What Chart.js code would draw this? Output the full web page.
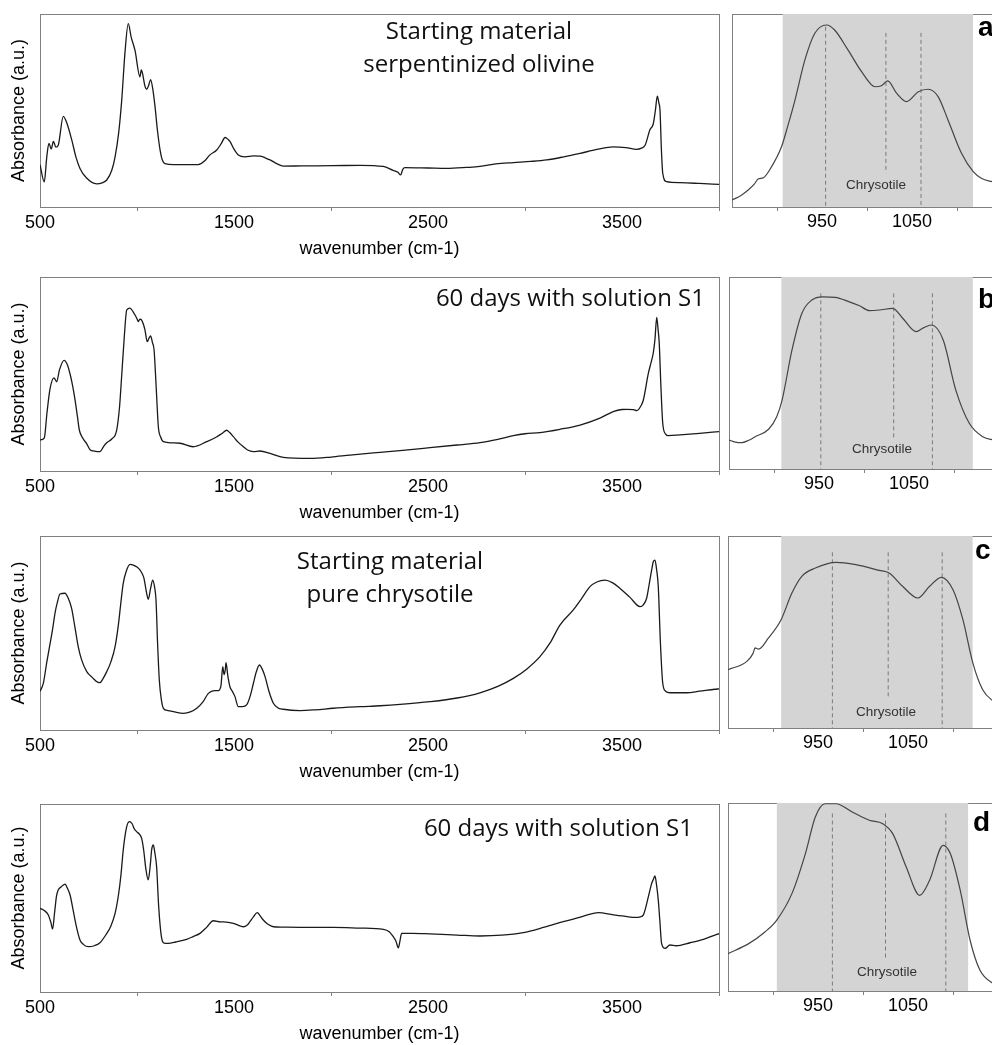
<!DOCTYPE html>
<html>
<head>
<meta charset="utf-8">
<script src="https://cdn.jsdelivr.net/npm/chart.js@4.4.1/dist/chart.umd.min.js"></script>
<style>
  html, body { margin: 0; padding: 0; background: #fff; }
  body { width: 992px; height: 1045px; overflow: hidden; position: relative; }
  canvas { position: absolute; }
  .note { position: absolute; z-index: 2; width: 400px; font-family: "Open Sans", sans-serif; font-size: 24px; color: #111; white-space: nowrap; }
  .chry { position: absolute; z-index: 2; width: 100px; text-align: center; font-family: "Liberation Sans", Arial, sans-serif; font-size: 13.5px; line-height: 13.5px; color: #333; }
  .tag { position: absolute; z-index: 2; font-family: "Liberation Sans", Arial, sans-serif; font-weight: bold; font-size: 28px; line-height: 28px; color: #000; }
</style>
</head>
<body>
<canvas id="mainA"></canvas><canvas id="zoomA"></canvas>
<canvas id="mainB"></canvas><canvas id="zoomB"></canvas>
<canvas id="mainC"></canvas><canvas id="zoomC"></canvas>
<canvas id="mainD"></canvas><canvas id="zoomD"></canvas>

<div class="note" style="left:279px;top:14px;line-height:32.7px;text-align:center">Starting material<br>serpentinized olivine</div>
<div class="note" style="left:305px;top:280px;line-height:33px;text-align:right">60 days with solution S1</div>
<div class="note" style="left:190px;top:543px;line-height:33.4px;text-align:center">Starting material<br>pure chrysotile</div>
<div class="note" style="left:293px;top:810px;line-height:33px;text-align:right">60 days with solution S1</div>

<div class="chry" style="left:826px;top:178px">Chrysotile</div>
<div class="chry" style="left:832px;top:442px">Chrysotile</div>
<div class="chry" style="left:836px;top:705px">Chrysotile</div>
<div class="chry" style="left:837px;top:965px">Chrysotile</div>

<div class="tag" style="left:978px;top:13px">a</div>
<div class="tag" style="left:978px;top:285px">b</div>
<div class="tag" style="left:975px;top:536px">c</div>
<div class="tag" style="left:973px;top:808px">d</div>

<script>
// ---- full spectra (wavenumber, absorbance a.u. 0-100) ----
const wnMainA = [500,522,535,546,558,569,582,594,620,640,663,685,706,740,792,820,844,870,887,905,921,938,955,970,990,1015,1022,1029,1040,1050,1060,1070,1080,1093,1105,1119,1130,1144,1190,1239,1316,1350,1376,1411,1435,1454,1470,1479,1500,1522,1557,1600,1634,1660,1686,1720,1754,1850,2011,2150,2269,2320,2345,2359,2370,2381,2500,2596,2700,2768,2850,2940,3030,3112,3200,3284,3370,3455,3520,3576,3600,3619,3644,3661,3672,3682,3690,3696,3703,3710,3730,3799,3900,4000];
const absMainA = [22,13,26,33,30,34,31,32,47,43,35,26,20,15,12,12.5,14,19,26,38,55,80,95,88,81,67.5,71,69,63,61,63,66,62,52,40,29.5,24.5,22.5,22,22,22,24,27,29.5,33,36,35,34,30,27,26,26.5,26.4,25.5,24.4,22.5,21.2,21.3,21.4,21.6,21,19,18,16.6,19.5,20.4,20.2,20,20.5,21,22.3,23,23.6,24.4,26,27.8,29.8,31.2,30.8,29.9,30.5,32,40,43,50,57.5,54,50,30,17.5,13.1,12.6,12.2,11.7];

const wnMainB = [500,522,536,551,572,586,600,624,640,655,668,680,693,703,720,741,758,780,809,830,844,870,895,910,921,935,947,964,980,990,1000,1007,1015,1024,1035,1041,1053,1062,1070,1080,1088,1098,1110,1122,1136,1180,1222,1290,1359,1410,1440,1462,1478,1497,1520,1548,1570,1600,1634,1686,1754,1892,2000,2098,2253,2356,2510,2650,2768,2860,2940,3000,3077,3180,3284,3380,3455,3500,3524,3560,3576,3600,3610,3636,3650,3661,3670,3679,3686,3692,3700,3710,3725,3739,3799,3900,4000];
const absMainB = [16,17,30,42,48,46,52,57,55,50,44,37,28,21,17,14,11,10.3,10,13,14.6,16.5,21,33,49,70,83,84,82,80.4,78.5,77,78.3,77.8,75,72.7,66.7,68.5,69.6,66,62.4,45,22.8,17.5,15.1,14.5,14.3,12.5,15.1,17.5,19.5,21,19.8,17.7,15,12.5,10.8,10,10.3,9.1,7,6.5,7.2,8.2,9.6,10.5,12,13.4,14.6,16.3,18.2,19.2,19.8,21.5,23.7,27,30.6,31.7,31.8,31.6,31.1,34,36.6,50.4,56,60.7,68,79.2,73,65.8,45,24.6,19,18.2,18.6,19.4,20.3];

const wnMainC = [500,517,535,551,565,577,590,603,629,645,663,680,697,715,741,770,800,809,825,844,865,887,905,915,929,945,964,981,1000,1015,1027,1036,1047,1058,1070,1081,1090,1098,1106,1115,1125,1136,1160,1187,1239,1275,1308,1340,1368,1400,1419,1433,1442,1449,1455,1459,1468,1479,1492,1505,1522,1545,1565,1585,1600,1615,1631,1645,1660,1680,1703,1725,1754,1840,1920,2012,2150,2253,2356,2510,2650,2768,2860,2940,3010,3077,3130,3180,3249,3290,3335,3370,3412,3450,3490,3540,3593,3610,3627,3640,3653,3662,3670,3678,3687,3698,3710,3725,3747,3833,3900,3979,4000];
const absMainC = [20,24,35,44,52,60,66,70.1,70.5,68,62.7,53,43,36,30.1,27,24.5,24.4,26.5,30.1,35,43,55,64,75.6,82,85.4,85,84,82.5,80.5,78.2,72,67.4,73,77.3,74,67,45,25.8,16,11.2,10,9.5,8.6,9.3,11.2,14.5,18.9,20.3,20.3,23,32.6,28.5,31,34.7,28,22.3,19.8,17.2,12,12,12.9,18,24.1,30,33.5,31.5,27.5,20,13.8,11.5,10.7,10,10.4,11.2,12,12.5,13.2,14.6,16.5,19.2,22.5,26.6,31.5,37.8,45,54.1,61.9,67.5,73.9,76.3,77.3,76,73,68.5,63.6,64.5,67.9,75,82.5,87,87.6,83,73.9,45,24.1,20,19.2,19.2,20,21,21.2];

const wnMainD = [500,520,543,556,565,575,585,594,610,629,642,655,670,685,706,725,749,780,809,840,865,887,905,918,929,945,960,975,985,998,1012,1024,1035,1045,1058,1068,1076,1084,1092,1101,1112,1127,1140,1161,1200,1256,1290,1325,1360,1393,1430,1460,1497,1530,1548,1570,1582,1600,1620,1635,1651,1675,1703,1750,1840,2012,2150,2270,2300,2321,2335,2347,2356,2364,2420,2510,2650,2768,2880,2991,3100,3197,3290,3378,3455,3520,3567,3595,3610,3636,3653,3662,3670,3678,3687,3695,3704,3722,3747,3780,3851,3920,3979,4000];
const absMainD = [44.5,43.5,41,37,33.5,42,51,54.3,56,57.4,55,51.6,44,36,27.7,25.2,24.1,24.6,26.2,30.5,35,41.8,52,63,75.5,87,90.6,89.5,87,85.3,84,81.7,75,66,59.6,67,76,78.2,74,66.7,45,28.6,26,25.9,26.6,28,29.5,31.2,34.5,37.9,37.3,37.2,36.5,35.2,34.7,35.8,37.4,40,42.2,40.5,38.3,36,34.7,34.5,34.4,34.4,34,33.3,32,29.4,27,23.5,27.5,31.2,31.2,30.9,30.3,29.8,30.2,31.6,34.5,37.4,40,42.2,41,40.2,39.7,40,41,50.7,57.8,60,61.7,57,48.9,38,25.9,23.2,25,24.6,26.2,28,30.3,31];

// ---- 850-1150 cm-1 close-ups ----
const wnZoomA = [850,860,868,875,879,885,894,905,912,920,931,942,955,964,979,994,1009,1016,1023,1033,1044,1057,1068,1079,1090,1105,1118,1127,1139,1150];
const absZoomA = [3.6,6,8.8,12,14.5,15.2,20.9,31.2,42,55.4,76.2,90,94.3,91.7,81.3,70.1,62.3,62.8,65.3,58.9,54.6,59.7,61,57.2,45.1,27.8,18.3,14.9,13.1,12];

const wnZoomB = [850,857,864,872,879,894,903,909,920,931,942,954,968,983,995,1006,1017,1032,1043,1058,1066,1075,1088,1102,1117,1132,1144,1150];
const absZoomB = [15.1,14,13.7,15,16.8,20.7,27.2,35.9,62,81.1,88,89.7,89.4,87.2,85,82.5,82.8,83.7,78.5,71.5,73.5,75,67.2,41.1,23.8,16.8,15.1,14.5];

const wnZoomC = [850,871,878,880,884,895,909,921,932,947,970,992,1018,1029,1044,1061,1074,1087,1100,1111,1122,1133,1145,1150];
const absZoomC = [30.4,34.7,39,41.7,41.1,46.9,56.4,70.3,79,83.3,86.3,85.1,82.1,80.7,73.8,67.7,73.8,78.5,72,56.4,33.9,19.9,13.9,12.5];

const wnZoomD = [850,873,891,904,921,936,947,958,970,988,1007,1022,1033,1048,1063,1074,1089,1097,1108,1119,1130,1145,1150];
const absZoomD = [19.9,25.2,31.4,37.6,51.8,73.1,92.6,99.6,99.6,95.2,90.8,89,83.7,66,50.9,58.9,77.5,73.1,53.6,27,11,3.9,3];

// chrysotile window (shaded) and band positions (dashed)
const bandA = [906, 1118], bandB = [908, 1121], bandC = [909, 1122], bandD = [904, 1117];
const dashA = [954, 1021, 1060], dashTopA = [93.4, 90.2, 90.2], dashEndA = [0, 17.6, 0];
const dashB = [952, 1033, 1076], dashTopB = [91.5, 91.5, 91.5], dashEndB = [0, 16.1, 0];
const dashC = [966, 1028, 1088], dashTopC = [91.5, 91.5, 91.5], dashEndC = [0, 16.5, 0];
const dashD = [966, 1025, 1092], dashTopD = [94.4, 94.4, 94.4], dashEndD = [0, 16.3, 0];

const FRAME = '#808080';
const FONT = 'Liberation Sans, Arial, sans-serif';
const pts = (xs, ys) => xs.map((x, i) => ({ x, y: ys[i] }));
const none = 'rgba(0,0,0,0)';

function frameAxes(topH, rightW) {
  return {
    x2: { type: 'linear', position: 'top', afterFit: s => { s.height = topH; },
          ticks: { display: false }, grid: { display: false }, border: { color: FRAME } },
    y2: { type: 'linear', position: 'right', afterFit: s => { s.width = rightW; },
          ticks: { display: false }, grid: { display: false }, border: { color: FRAME } }
  };
}

function mainChart(id, wn, ab, top, bottom) {
  const cv = document.getElementById(id);
  cv.width = 722;
  cv.height = bottom - top + 14 + 55;
  cv.style.left = '0px';
  cv.style.top = (top - 14) + 'px';
  new Chart(cv, {
    type: 'line',
    data: { datasets: [{ data: pts(wn, ab), borderColor: '#1a1a1a', borderWidth: 1.3,
                         pointRadius: 0, cubicInterpolationMode: 'monotone', fill: false }] },
    options: {
      responsive: false, animation: false, devicePixelRatio: 1,
      layout: { padding: 0 },
      plugins: { legend: { display: false }, tooltip: { enabled: false } },
      scales: {
        x: {
          type: 'linear', min: 500, max: 4000, position: 'bottom',
          afterFit: s => { s.height = 55; },
          ticks: { stepSize: 500, autoSkip: false, maxRotation: 0, padding: 1.5, color: '#000',
                   font: { family: FONT, size: 18 },
                   callback: v => (v % 1000 === 500 && v < 4000) ? String(v) : '' },
          grid: { drawOnChartArea: false, tickLength: 4,
                  tickColor: c => (c.tick && c.tick.value % 1000 === 0) ? FRAME : none },
          border: { color: FRAME },
          title: { display: true, text: 'wavenumber (cm-1)', color: '#000',
                   font: { family: FONT, size: 18 }, padding: { top: 0, bottom: 2.2 } }
        },
        y: {
          min: 0, max: 100, position: 'left',
          afterFit: s => { s.width = 40; },
          ticks: { display: false }, grid: { display: false }, border: { color: FRAME },
          title: { display: true, text: 'Absorbance (a.u.)', color: '#000',
                   font: { family: FONT, size: 18 }, padding: { top: 8, bottom: 0 } }
        },
        ...frameAxes(14, 3)
      }
    }
  });
}

function zoomChart(id, wn, ab, band, dash, dashTop, dashEnd, left, top, bottom) {
  const cv = document.getElementById(id);
  cv.width = 4 + 270 + 4;
  cv.height = bottom - top + 4 + 40;
  cv.style.left = (left - 4) + 'px';
  cv.style.top = (top - 4) + 'px';
  const sets = [{ data: pts(wn, ab), borderColor: '#444', borderWidth: 1.2, pointRadius: 0,
                  cubicInterpolationMode: 'monotone', fill: false, order: 0 }];
  dash.forEach((d, i) => sets.push({
    data: [{ x: d, y: dashTop[i] }, { x: d, y: dashEnd[i] }],
    borderColor: '#7a7a7a', borderWidth: 1, borderDash: [4, 3], pointRadius: 0, fill: false, order: 1
  }));
  sets.push({ data: [{ x: band[0], y: 100 }, { x: band[1], y: 100 }], borderWidth: 0,
              borderColor: none, backgroundColor: '#d4d4d4', fill: 'origin', pointRadius: 0, order: 2 });
  new Chart(cv, {
    type: 'line',
    data: { datasets: sets },
    options: {
      responsive: false, animation: false, devicePixelRatio: 1,
      layout: { padding: 0 },
      plugins: { legend: { display: false }, tooltip: { enabled: false } },
      scales: {
        x: {
          type: 'linear', min: 850, max: 1150, position: 'bottom',
          afterFit: s => { s.height = 40; },
          ticks: { stepSize: 50, autoSkip: false, maxRotation: 0, padding: 0, color: '#000',
                   font: { family: FONT, size: 18 },
                   callback: v => (v === 950 || v === 1050) ? String(v) : '' },
          grid: { drawOnChartArea: false, tickLength: 4,
                  tickColor: c => (c.tick && c.tick.value % 100 === 0) ? FRAME : none },
          border: { color: FRAME }
        },
        y: {
          min: 0, max: 100, position: 'left',
          afterFit: s => { s.width = 4; },
          ticks: { display: false }, grid: { display: false }, border: { color: FRAME }
        },
        ...frameAxes(4, 4)
      }
    }
  });
}

mainChart('mainA', wnMainA, absMainA, 14, 207);
mainChart('mainB', wnMainB, absMainB, 277, 471);
mainChart('mainC', wnMainC, absMainC, 536, 730);
mainChart('mainD', wnMainD, absMainD, 804, 992);

zoomChart('zoomA', wnZoomA, absZoomA, bandA, dashA, dashTopA, dashEndA, 732, 14, 207);
zoomChart('zoomB', wnZoomB, absZoomB, bandB, dashB, dashTopB, dashEndB, 729, 277, 469);
zoomChart('zoomC', wnZoomC, absZoomC, bandC, dashC, dashTopC, dashEndC, 728, 536, 728);
zoomChart('zoomD', wnZoomD, absZoomD, bandD, dashD, dashTopD, dashEndD, 728, 803, 991);
</script>
</body>
</html>
